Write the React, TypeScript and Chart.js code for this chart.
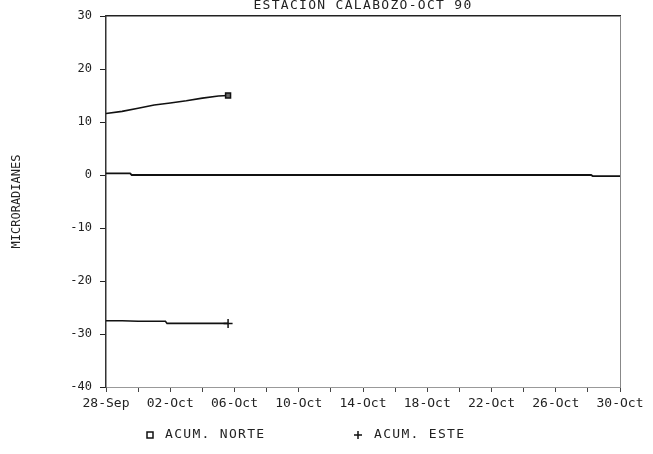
import React, { useEffect, useRef } from 'react';
import { Chart, registerables } from 'chart.js';
Chart.register(...registerables);

const TITLE = 'ESTACION CALABOZO-OCT 90';
const Y_TITLE = 'MICRORADIANES';
const X_TICK_LABELS = ['28-Sep', '02-Oct', '06-Oct', '10-Oct', '14-Oct', '18-Oct', '22-Oct', '26-Oct', '30-Oct'];
const NORTE_LABEL = 'ACUM. NORTE';
const ESTE_LABEL = 'ACUM. ESTE';

// x = days since 28-Sep
const NORTE_DAYS = [0, 1, 2, 3, 4, 5, 6, 7, 7.6];
const NORTE_VALUES = [11.6, 12.0, 12.6, 13.2, 13.6, 14.0, 14.5, 14.9, 15.0];
const ESTE_DAYS = [0, 1, 2, 3, 3.7, 3.8, 5, 6, 7, 7.6];
const ESTE_VALUES = [-27.5, -27.5, -27.6, -27.6, -27.6, -28.0, -28.0, -28.0, -28.0, -28.0];
const ZERO_DAYS = [0, 1.5, 1.6, 30.2, 30.3, 32];
const ZERO_VALUES = [0.3, 0.3, 0, 0, -0.2, -0.2];

const X_MIN = 0;
const X_MAX = 32;
const Y_MIN = -40;
const Y_MAX = 30;

const MONO = "'DejaVu Sans Mono', monospace";
const INK = '#222';

const pts = (xs: number[], ys: number[]) => xs.map((x, i) => ({ x, y: ys[i] }));
const lastOnly = (n: number, r: number) => Array.from({ length: n }, (_, i) => (i === n - 1 ? r : 0));

const decorPlugin = {
  id: 'decor',
  afterDraw(chart: any) {
    const { ctx, chartArea } = chart;
    ctx.save();
    ctx.fillStyle = INK;
    ctx.strokeStyle = '#111';
    ctx.font = `13px ${MONO}`;
    (ctx as any).letterSpacing = '1.3px';
    ctx.textBaseline = 'middle';
    // title
    ctx.textAlign = 'center';
    ctx.fillText(TITLE, (chartArea.left + chartArea.right) / 2, 6);
    // legend
    ctx.textAlign = 'left';
    const ly = 435;
    ctx.lineWidth = 1.5;
    ctx.strokeRect(147, ly - 3, 6, 6);
    ctx.fillText(NORTE_LABEL, 165, ly);
    ctx.beginPath();
    ctx.moveTo(354, ly);
    ctx.lineTo(362, ly);
    ctx.moveTo(358, ly - 4);
    ctx.lineTo(358, ly + 4);
    ctx.stroke();
    ctx.fillText(ESTE_LABEL, 374, ly);
    ctx.restore();
  },
};

export default function App() {
  const ref = useRef<HTMLCanvasElement>(null);
  useEffect(() => {
    if (!ref.current) return;
    const chart = new Chart(ref.current, {
      type: 'line',
      data: {
        datasets: [
          {
            label: NORTE_LABEL,
            data: pts(NORTE_DAYS, NORTE_VALUES),
            borderColor: '#111',
            borderWidth: 1.6,
            pointStyle: 'rect',
            pointRadius: lastOnly(NORTE_DAYS.length, 3.5),
            pointBackgroundColor: '#666',
            pointBorderColor: '#111',
            pointBorderWidth: 1.5,
            tension: 0,
          },
          {
            label: ESTE_LABEL,
            data: pts(ESTE_DAYS, ESTE_VALUES),
            borderColor: '#111',
            borderWidth: 1.6,
            pointStyle: 'cross',
            pointRadius: lastOnly(ESTE_DAYS.length, 4.5),
            pointBorderColor: '#111',
            pointBorderWidth: 1.5,
            tension: 0,
          },
          {
            label: '',
            data: pts(ZERO_DAYS, ZERO_VALUES),
            borderColor: '#111',
            borderWidth: 1.8,
            pointRadius: 0,
            tension: 0,
          },
        ],
      },
      options: {
        animation: false,
        responsive: false,
        layout: { padding: { left: 0, right: 33, top: 16, bottom: 39 } },
        plugins: {
          legend: { display: false },
          title: { display: false },
          tooltip: { enabled: false },
        },
        scales: {
          x: {
            type: 'linear',
            position: 'bottom',
            min: X_MIN,
            max: X_MAX,
            ticks: {
              stepSize: 2,
              autoSkip: false,
              maxRotation: 0,
              padding: 4,
              color: INK,
              font: { family: MONO, size: 13 },
              callback: (v: any) => (Number(v) % 4 === 0 ? X_TICK_LABELS[Number(v) / 4] : ''),
            },
            grid: { drawOnChartArea: false, drawTicks: true, tickLength: 5, color: '#444' },
            border: { color: '#999', width: 1, dash: [2, 2] },
            afterFit: (s: any) => {
              s.height = 28;
            },
          },
          xTop: {
            type: 'linear',
            position: 'top',
            min: X_MIN,
            max: X_MAX,
            ticks: { display: false },
            grid: { display: false, drawTicks: false },
            border: { color: '#222', width: 1.5 },
            afterFit: (s: any) => {
              s.height = 0;
            },
          },
          y: {
            type: 'linear',
            position: 'left',
            min: Y_MIN,
            max: Y_MAX,
            ticks: {
              stepSize: 10,
              padding: 8,
              color: INK,
              font: { family: MONO, size: 12 },
            },
            grid: { drawOnChartArea: false, drawTicks: true, tickLength: 6, color: '#222' },
            border: { color: '#333', width: 1.5 },
            title: {
              display: true,
              text: Y_TITLE,
              color: INK,
              font: { family: MONO, size: 12 },
              padding: { top: 10, bottom: 0 },
            },
            afterFit: (s: any) => {
              s.width = 106;
            },
          },
          yRight: {
            type: 'linear',
            position: 'right',
            min: Y_MIN,
            max: Y_MAX,
            ticks: { display: false },
            grid: { display: false, drawTicks: false },
            border: { color: '#888', width: 1, dash: [2, 2] },
            afterFit: (s: any) => {
              s.width = 0;
            },
          },
        },
      },
      plugins: [decorPlugin],
    });
    return () => chart.destroy();
  }, []);
  return (
    <div style={{ position: 'fixed', left: 0, top: 0, width: 653, height: 454, background: '#fff' }}>
      <canvas ref={ref} width={653} height={454} style={{ display: 'block' }} />
    </div>
  );
}
